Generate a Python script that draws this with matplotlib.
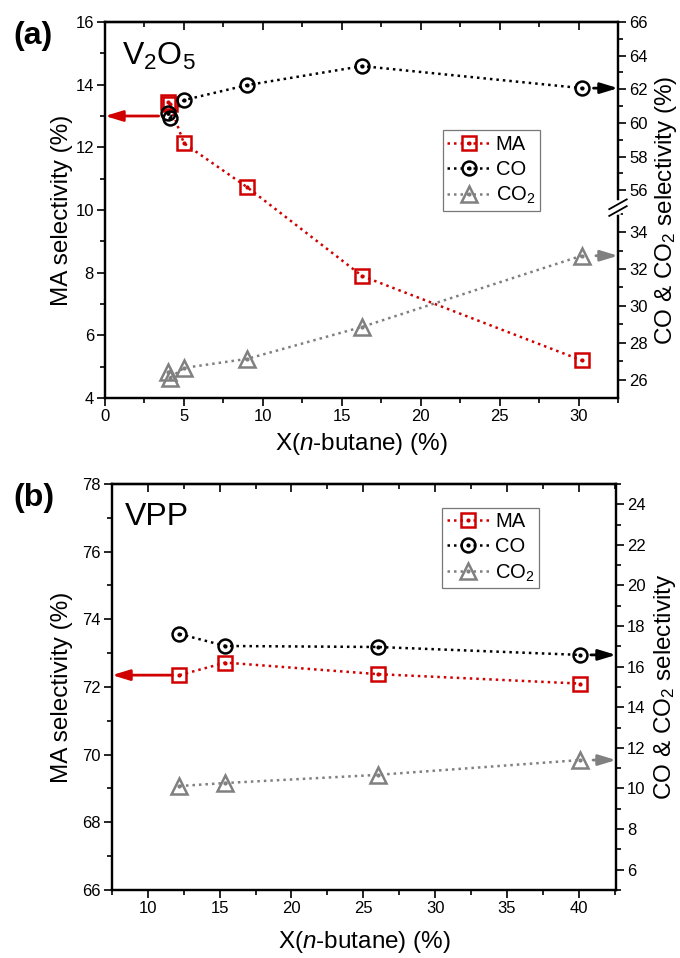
import numpy as np
import matplotlib
matplotlib.use('Agg')
from matplotlib import pyplot as plt
from matplotlib.ticker import MultipleLocator, FixedLocator

plt.rcParams['font.family'] = ['Liberation Sans', 'DejaVu Sans']
plt.rcParams['mathtext.fontset'] = 'custom'
plt.rcParams['mathtext.rm'] = 'Liberation Sans'
plt.rcParams['mathtext.it'] = 'Liberation Sans:italic'
plt.rcParams['mathtext.bf'] = 'Liberation Sans:bold'

# ---- data, panel (a) V2O5 ----
xa = [4.0, 4.1, 5.0, 9.0, 16.3, 30.2]
ma_a = [13.45, 13.38, 12.13, 10.73, 7.89, 5.20]
co_a = [60.58, 60.29, 61.36, 62.25, 63.38, 62.07]
co2_a = [26.41, 26.09, 26.63, 27.12, 28.86, 32.72]
arrow_ma_a = (3.4, 13.0)   # start of the red arrow toward the left axis

# ---- data, panel (b) VPP ----
xb = [12.2, 15.4, 26.0, 40.1]
ma_b = [72.35, 72.72, 72.38, 72.10]
co_b = [17.61, 17.02, 16.97, 16.58]
co2_b = [10.12, 10.27, 10.67, 11.40]

RED = '#d00000'
BLK = '#000000'
GRY = '#808080'
DOT = (0, (1, 1.6))
LBL = 17.5
TCK = 12


# piecewise scale for the broken right axis of panel (a)
LO0, LO1, HI0, HI1 = 25.0, 35.3, 55.0, 66.0
S1 = 0.504 / (LO1 - LO0)
S2 = 0.4915 / (HI1 - HI0)
GAP = 0.003


def fwd(v):
    v = np.asarray(v, float)
    return np.where(v <= LO1, (v - LO0) * S1,
                    np.where(v < HI0, 0.504 + (v - LO1) * GAP / (HI0 - LO1),
                             0.504 + GAP + (v - HI0) * S2))


def inv(u):
    u = np.asarray(u, float)
    return np.where(u <= 0.504, LO0 + u / S1,
                    np.where(u < 0.504 + GAP, LO1 + (u - 0.504) * (HI0 - LO1) / GAP,
                             HI0 + (u - 0.504 - GAP) / S2))


def series(ax, x, y, color, marker, ms):
    ln, = ax.plot(x, y, ls=DOT, lw=1.8, color=color, marker=marker, ms=ms,
                  mfc='none', mec=color, mew=1.8)
    dt, = ax.plot(x, y, ls='none', marker='o', ms=2.0, color=color)
    return (ln, dt)


def style_axes(ax, ax2, xmaj, xmin):
    for a in (ax, ax2):
        for s in a.spines.values():
            s.set_linewidth(1.6)
    ax.tick_params(axis='both', which='major', direction='out', length=6,
                   width=1.2, labelsize=TCK, pad=2)
    ax.tick_params(axis='both', which='minor', direction='out', length=3.5,
                   width=1.2)
    ax.tick_params(axis='y', which='both', right=False)
    ax2.tick_params(axis='y', which='major', direction='out', length=6,
                    width=1.2, labelsize=TCK, pad=2)
    ax2.tick_params(axis='y', which='minor', direction='out', length=3.5,
                    width=1.2)
    ax.xaxis.set_major_locator(MultipleLocator(xmaj))
    ax.xaxis.set_minor_locator(MultipleLocator(xmin))
    sec = ax.secondary_xaxis('top')
    sec.xaxis.set_major_locator(MultipleLocator(xmaj))
    sec.xaxis.set_minor_locator(MultipleLocator(xmin))
    sec.tick_params(which='major', direction='in', length=6, width=1.2,
                    labeltop=False)
    sec.tick_params(which='minor', direction='in', length=3.5, width=1.2)
    sec.spines['top'].set_linewidth(1.6)


def arrow(ax, start, end, color):
    ax.annotate('', xy=end, xytext=start,
                arrowprops=dict(arrowstyle='-|>,head_length=1.05,head_width=0.32',
                                color=color, lw=2.0, shrinkA=0, shrinkB=0),
                annotation_clip=False)


def legend(ax, handles, anchor):
    leg = ax.legend(handles, ['MA', 'CO', 'CO$_2$'],
                    loc='upper left', bbox_to_anchor=anchor, fontsize=14.5,
                    frameon=True, fancybox=False, edgecolor='#555555',
                    handlelength=2.1, handletextpad=0.3, borderpad=0.22,
                    labelspacing=0.3, borderaxespad=0)
    leg.get_frame().set_linewidth(0.9)
    return leg


fig = plt.figure(figsize=(6.8, 9.58), dpi=100)

# ================= panel (a) =================
ax = fig.add_axes([0.1544, 0.5846, 0.7544, 0.3924])
ax2 = ax.twinx()
ax2.set_yscale('function', functions=(fwd, inv))

h_ma = series(ax, xa, ma_a, RED, 's', 9.5)
h_co = series(ax2, xa, co_a, BLK, 'o', 10)
h_co2 = series(ax2, xa, co2_a, GRY, '^', 12)

ax.set_xlim(0, 32.5)
ax.set_ylim(4, 16)
ax2.set_ylim(LO0, HI1)
ax.yaxis.set_major_locator(MultipleLocator(2))
ax.yaxis.set_minor_locator(MultipleLocator(1))
ax2.yaxis.set_major_locator(FixedLocator([26, 28, 30, 32, 34, 56, 58, 60, 62, 64, 66]))
ax2.yaxis.set_minor_locator(FixedLocator([27, 29, 31, 33, 35, 57, 59, 61, 63, 65]))
style_axes(ax, ax2, 5, 2.5)

ax.set_xlabel('X($n$-butane) (%)', fontsize=LBL, va='top')
ax.xaxis.set_label_coords(0.5, -0.088)
ax.set_ylabel('MA selectivity (%)', fontsize=LBL)
ax.yaxis.set_label_coords(-0.062, 0.5)
ax2.set_ylabel('CO & CO$_2$ selectivity (%)', fontsize=LBL)
ax2.yaxis.set_label_coords(1.068, 0.5)

ax.text(0.033, 0.95, 'V$_2$O$_5$', transform=ax.transAxes, fontsize=23,
        ha='left', va='top')

arrow(ax, arrow_ma_a, (0, arrow_ma_a[1]), RED)
arrow(ax2, (xa[-1] + 0.75, co_a[-1]), (32.5, co_a[-1]), BLK)
arrow(ax2, (xa[-1] + 0.9, co2_a[-1]), (32.5, co2_a[-1]), GRY)

# axis break on the right spine
frac = (fwd(45.0) - fwd(LO0)) / (fwd(HI1) - fwd(LO0))
ax2.plot([1, 1], [frac - 0.012, frac + 0.012], transform=ax2.transAxes,
         color='white', lw=4, clip_on=False, zorder=10)
for off in (-0.009, 0.009):
    ax2.plot([1 - 0.017, 1 + 0.017], [frac + off - 0.013, frac + off + 0.013],
             transform=ax2.transAxes, color='black', lw=1.3, clip_on=False,
             zorder=11)

legend(ax2, [h_ma, h_co, h_co2], (0.659, 0.712))

fig.text(0.019, 0.978, '(a)', fontsize=23, fontweight='bold', ha='left', va='top')

# ================= panel (b) =================
bx = fig.add_axes([0.1647, 0.0710, 0.7412, 0.4238])
bx2 = bx.twinx()

g_ma = series(bx, xb, ma_b, RED, 's', 9.5)
g_co = series(bx2, xb, co_b, BLK, 'o', 10)
g_co2 = series(bx2, xb, co2_b, GRY, '^', 12)

bx.set_xlim(7.5, 42.6)
bx.set_ylim(66, 78)
bx2.set_ylim(5, 25)
bx.yaxis.set_major_locator(MultipleLocator(2))
bx.yaxis.set_minor_locator(MultipleLocator(1))
bx2.yaxis.set_major_locator(MultipleLocator(2))
bx2.yaxis.set_minor_locator(MultipleLocator(1))
style_axes(bx, bx2, 5, 2.5)
bx2.set_yticks([6, 8, 10, 12, 14, 16, 18, 20, 22, 24])

bx.set_xlabel('X($n$-butane) (%)', fontsize=LBL, va='top')
bx.xaxis.set_label_coords(0.5, -0.096)
bx.set_ylabel('MA selectivity (%)', fontsize=LBL)
bx.yaxis.set_label_coords(-0.077, 0.5)
bx2.set_ylabel('CO & CO$_2$ selectivity', fontsize=LBL)
bx2.yaxis.set_label_coords(1.071, 0.5)

bx.text(0.026, 0.955, 'VPP', transform=bx.transAxes, fontsize=23,
        ha='left', va='top')

arrow(bx, (xb[0] - 0.5, ma_b[0]), (7.5, ma_b[0]), RED)
arrow(bx2, (xb[-1] + 0.75, co_b[-1]), (42.6, co_b[-1]), BLK)
arrow(bx2, (xb[-1] + 0.9, co2_b[-1]), (42.6, co2_b[-1]), GRY)

legend(bx2, [g_ma, g_co, g_co2], (0.655, 0.941))

fig.text(0.019, 0.496, '(b)', fontsize=23, fontweight='bold', ha='left', va='top')

fig.savefig('out.png', dpi=100)
